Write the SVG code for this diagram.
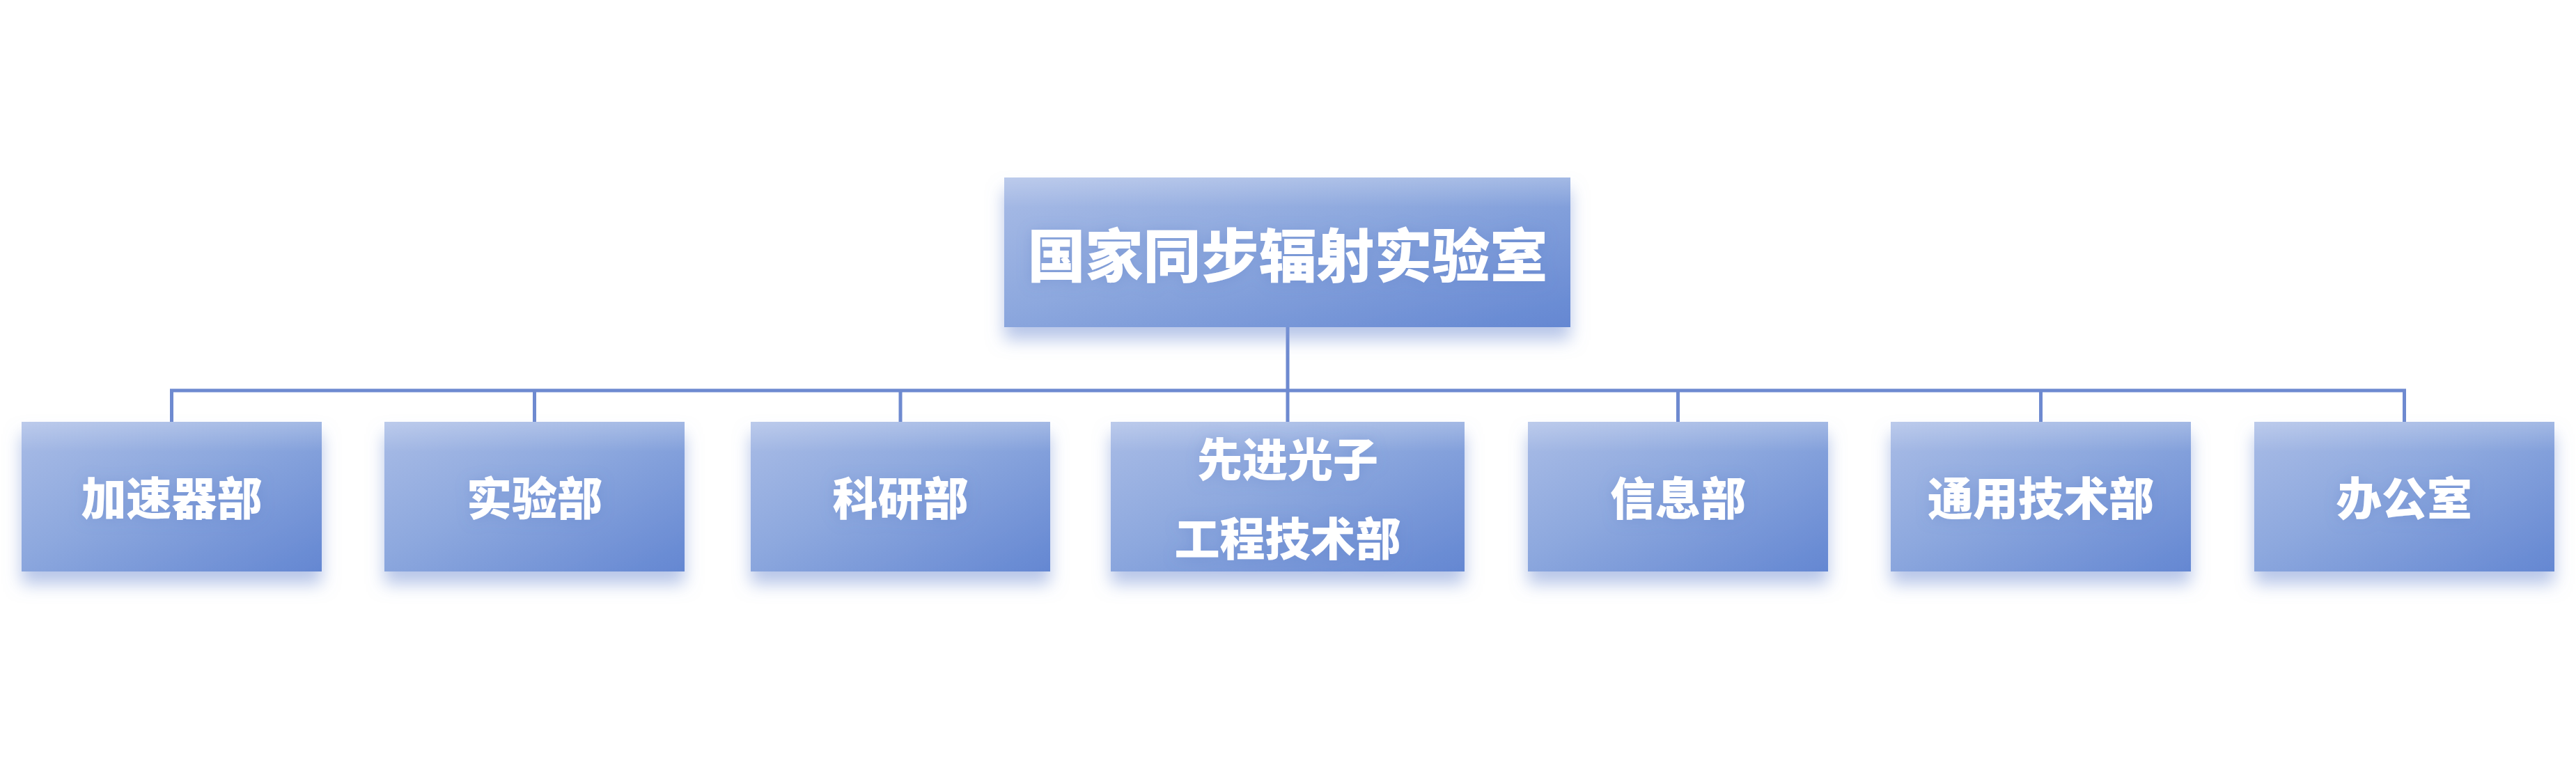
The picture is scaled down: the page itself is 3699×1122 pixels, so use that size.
<svg xmlns="http://www.w3.org/2000/svg" width="3699" height="1122" viewBox="0 0 3699 1122">
<style>
.box{fill:url(#bg);filter:url(#sh);}
.hl{fill:url(#top);}
.t{font-family:"Noto Sans CJK SC","Noto Sans",sans-serif;font-weight:900;fill:#ffffff;text-anchor:middle;dominant-baseline:central;filter:url(#ts);}
.c{font-size:65px;}
.title{font-size:83px;}
.ln{stroke:#6e8ad0;stroke-width:5;fill:none;}
</style>
<defs>
<linearGradient id="bg" x1="0" y1="0" x2="1" y2="1">
<stop offset="0" stop-color="#a9bce6"/>
<stop offset="0.45" stop-color="#8da8de"/>
<stop offset="1" stop-color="#6487d2"/>
</linearGradient>
<linearGradient id="top" x1="0" y1="0" x2="0" y2="1">
<stop offset="0" stop-color="#ffffff" stop-opacity="0.22"/>
<stop offset="0.2" stop-color="#ffffff" stop-opacity="0"/>
<stop offset="1" stop-color="#ffffff" stop-opacity="0"/>
</linearGradient>
<filter id="sh" x="-10%" y="-10%" width="120%" height="140%">
<feDropShadow dx="0" dy="18" stdDeviation="12" flood-color="#7c97d6" flood-opacity="0.55"/>
</filter>
<filter id="ts" x="-20%" y="-50%" width="140%" height="200%">
<feDropShadow dx="0" dy="2" stdDeviation="10" flood-color="#5a7bc6" flood-opacity="0.35"/>
</filter>
</defs>
<g id="connectors">
<path class="ln" d="M1849 470 V561 M246 561 H3452 M246.5 558.5 V606 M767.5 561 V606 M1293 561 V606 M1849 561 V606 M2409.5 561 V606 M2930.5 561 V606 M3452.5 558.5 V606"/>
</g>
<g id="root">
<rect class="box" x="1442" y="255" width="813" height="215"/>
<rect class="hl" x="1442" y="255" width="813" height="215"/>
<text class="t title" x="1849" y="362">国家同步辐射实验室</text>
</g>
<g id="n1">
<rect class="box" x="31" y="606" width="431" height="215"/>
<rect class="hl" x="31" y="606" width="431" height="215"/>
<text class="t c" x="246.5" y="712">加速器部</text>
</g>
<g id="n2">
<rect class="box" x="552" y="606" width="431" height="215"/>
<rect class="hl" x="552" y="606" width="431" height="215"/>
<text class="t c" x="767.5" y="712">实验部</text>
</g>
<g id="n3">
<rect class="box" x="1078" y="606" width="430" height="215"/>
<rect class="hl" x="1078" y="606" width="430" height="215"/>
<text class="t c" x="1293" y="712">科研部</text>
</g>
<g id="n4">
<rect class="box" x="1595" y="606" width="508" height="215"/>
<rect class="hl" x="1595" y="606" width="508" height="215"/>
<text class="t c" x="1849" y="656">先进光子</text>
<text class="t c" x="1849" y="770">工程技术部</text>
</g>
<g id="n5">
<rect class="box" x="2194" y="606" width="431" height="215"/>
<rect class="hl" x="2194" y="606" width="431" height="215"/>
<text class="t c" x="2409.5" y="712">信息部</text>
</g>
<g id="n6">
<rect class="box" x="2715" y="606" width="431" height="215"/>
<rect class="hl" x="2715" y="606" width="431" height="215"/>
<text class="t c" x="2930.5" y="712">通用技术部</text>
</g>
<g id="n7">
<rect class="box" x="3237" y="606" width="431" height="215"/>
<rect class="hl" x="3237" y="606" width="431" height="215"/>
<text class="t c" x="3452.5" y="712">办公室</text>
</g>
</svg>
